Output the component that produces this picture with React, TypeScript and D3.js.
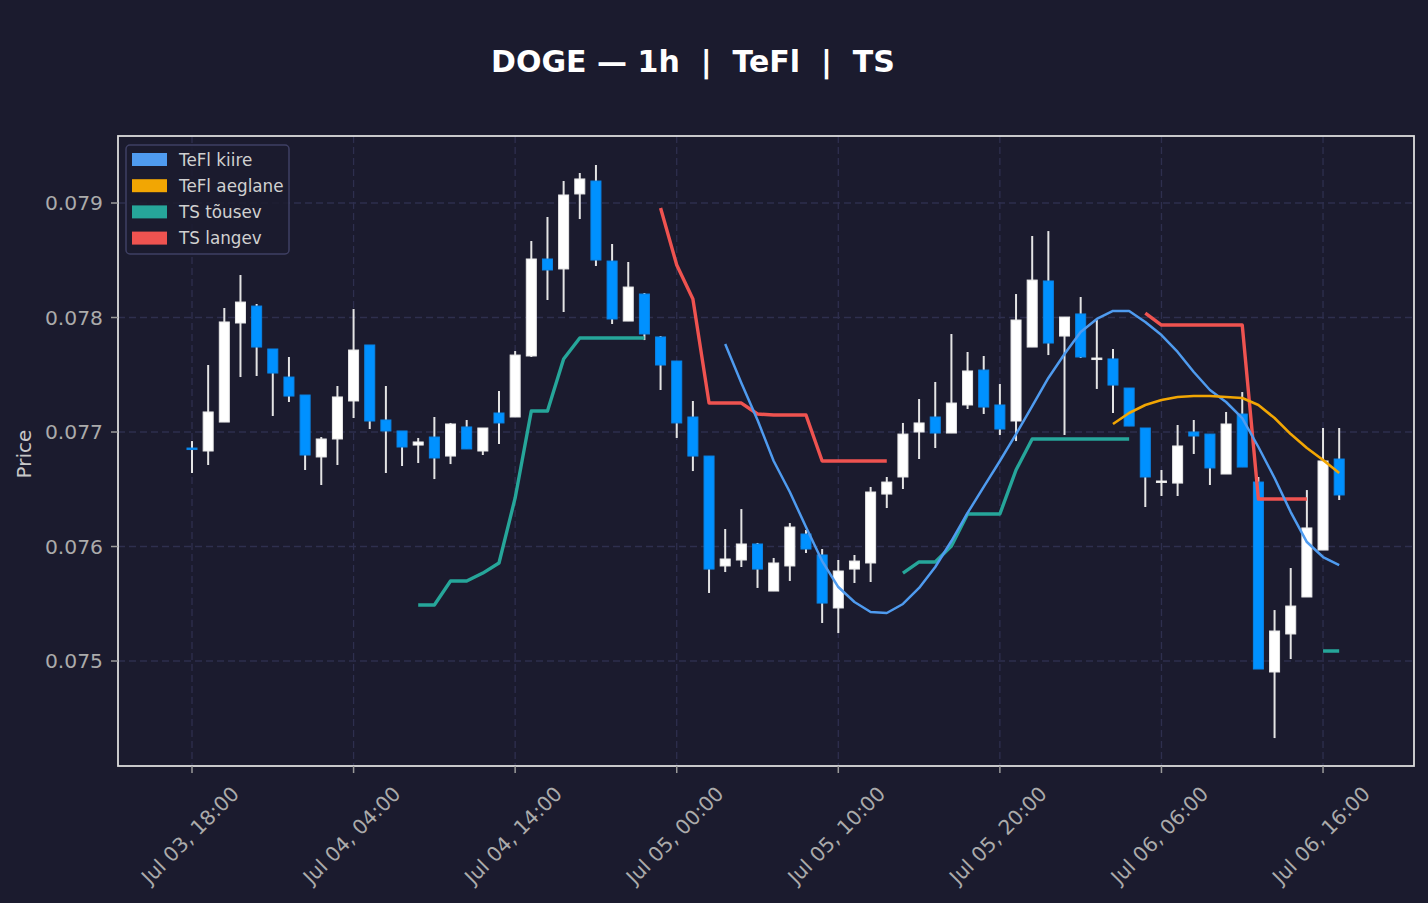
import React from "react";
import * as d3 from "d3";

const title = "DOGE — 1h  |  TeFl  |  TS";
const startTime = "2025-07-03T18:00:00Z";

const open = [0.07686,0.076834,0.077087,0.077952,0.0781,0.077725,0.07748,0.077323,0.076782,0.076939,0.077271,0.07776,0.077105,0.077009,0.076886,0.076956,0.07679,0.077044,0.076834,0.077166,0.077131,0.077664,0.078511,0.078424,0.079079,0.079192,0.078493,0.077969,0.078205,0.07783,0.07762,0.077131,0.07679,0.07583,0.075882,0.076022,0.075611,0.07583,0.076109,0.075926,0.075463,0.075803,0.075856,0.076458,0.076607,0.077,0.077131,0.076991,0.077236,0.077541,0.077236,0.077096,0.077742,0.078319,0.077838,0.078031,0.077638,0.077638,0.077384,0.077035,0.076563,0.076554,0.077,0.076982,0.076633,0.077157,0.076563,0.074904,0.075236,0.075559,0.075969,0.076764];
const high = [0.076921,0.077585,0.078083,0.078371,0.078118,0.077725,0.077655,0.077323,0.076956,0.077402,0.078074,0.07776,0.077402,0.077009,0.076948,0.077131,0.077079,0.077105,0.077035,0.077358,0.077707,0.078668,0.078878,0.079192,0.079262,0.079332,0.078642,0.078485,0.078214,0.077838,0.07762,0.077271,0.07679,0.076153,0.076327,0.076031,0.0759,0.076205,0.076144,0.075978,0.075882,0.075926,0.07652,0.076607,0.077079,0.077288,0.077437,0.077856,0.077699,0.077664,0.077419,0.078205,0.078712,0.078755,0.078004,0.078179,0.077978,0.077725,0.077384,0.077035,0.076668,0.077061,0.077105,0.076982,0.077175,0.077349,0.076607,0.075445,0.075812,0.076493,0.077035,0.077035];
const low = [0.076642,0.076712,0.077087,0.07748,0.077489,0.07714,0.077262,0.076668,0.076537,0.076712,0.077122,0.077026,0.076642,0.076703,0.076729,0.076589,0.07672,0.076852,0.076799,0.076895,0.077131,0.077655,0.078153,0.078048,0.07886,0.07845,0.077943,0.077969,0.077803,0.077367,0.076948,0.076659,0.075594,0.075777,0.075821,0.075638,0.075611,0.075699,0.075943,0.075332,0.075244,0.075681,0.07569,0.076336,0.076502,0.076764,0.07686,0.076991,0.077201,0.077157,0.076974,0.076921,0.077742,0.077672,0.076974,0.077646,0.077376,0.077166,0.077052,0.076345,0.076441,0.076441,0.076808,0.076537,0.076633,0.076694,0.07493,0.074327,0.075017,0.075559,0.075969,0.076406];
const close = [0.076852,0.077175,0.077961,0.078135,0.077742,0.077515,0.077314,0.076799,0.076939,0.077306,0.077716,0.077096,0.077009,0.076869,0.076913,0.076773,0.07707,0.076852,0.077035,0.077079,0.077672,0.078511,0.078415,0.07907,0.07921,0.078502,0.077987,0.078266,0.077856,0.077585,0.077079,0.07679,0.075803,0.075891,0.076022,0.075803,0.075856,0.07617,0.075978,0.075506,0.075786,0.075873,0.076476,0.076563,0.076982,0.077079,0.076991,0.077253,0.077533,0.077218,0.077026,0.077978,0.078327,0.077777,0.078004,0.077655,0.077646,0.07741,0.077052,0.076607,0.076572,0.076878,0.076965,0.076686,0.07707,0.076694,0.07493,0.075262,0.07548,0.076162,0.076747,0.07645];

const N = null;
const tsUp = [N,N,N,N,N,N,N,N,N,N,N,N,N,N,0.075489,0.075489,0.075699,0.075699,0.075768,0.075856,0.076424,0.077183,0.077183,0.077638,0.077821,0.077821,0.077821,0.077821,0.077821,N,N,N,N,N,N,N,N,N,N,N,N,N,N,N,0.075768,0.075865,0.075865,0.076004,0.076284,0.076284,0.076284,0.076668,0.076939,0.076939,0.076939,0.076939,0.076939,0.076939,0.076939,N,N,N,N,N,N,N,N,N,N,N,0.075087,0.075087];
const tsDown = [N,N,N,N,N,N,N,N,N,N,N,N,N,N,N,N,N,N,N,N,N,N,N,N,N,N,N,N,N,0.078956,0.078459,0.078162,0.077253,0.077253,0.077253,0.077157,0.077148,0.077148,0.077148,0.076747,0.076747,0.076747,0.076747,0.076747,N,N,N,N,N,N,N,N,N,N,N,N,N,N,N,0.078039,0.077934,0.077934,0.077934,0.077934,0.077934,0.077934,0.076415,0.076415,0.076415,0.076415,N,N];
const tefFast = [N,N,N,N,N,N,N,N,N,N,N,N,N,N,N,N,N,N,N,N,N,N,N,N,N,N,N,N,N,N,N,N,N,0.077769,0.077428,0.077105,0.076747,0.076476,0.07617,0.075873,0.075646,0.075515,0.075428,0.075419,0.075498,0.075638,0.075821,0.076048,0.076293,0.07652,0.076747,0.076982,0.077227,0.077472,0.077681,0.077873,0.077987,0.078057,0.078057,0.077961,0.077847,0.077699,0.077524,0.077367,0.077262,0.077122,0.076869,0.076598,0.076301,0.076039,0.075908,0.075838];
const tefSlow = [N,N,N,N,N,N,N,N,N,N,N,N,N,N,N,N,N,N,N,N,N,N,N,N,N,N,N,N,N,N,N,N,N,N,N,N,N,N,N,N,N,N,N,N,N,N,N,N,N,N,N,N,N,N,N,N,N,0.07707,0.077166,0.077236,0.077279,0.077306,0.077314,0.077314,0.077306,0.077297,0.077236,0.077122,0.076982,0.07686,0.076755,0.076642];

const yTicks = [0.075, 0.076, 0.077, 0.078, 0.079];
const xTickTimes = ["2025-07-03T18:00:00Z","2025-07-04T04:00:00Z","2025-07-04T14:00:00Z","2025-07-05T00:00:00Z","2025-07-05T10:00:00Z","2025-07-05T20:00:00Z","2025-07-06T06:00:00Z","2025-07-06T16:00:00Z"];

const legendItems = [
  { label: "TeFl kiire", color: "#4f9bef" },
  { label: "TeFl aeglane", color: "#f2a603" },
  { label: "TS tõusev", color: "#26a69a" },
  { label: "TS langev", color: "#ef5350" },
];

const BG = "#1b1b2e";
const UP = "#ffffff";
const DOWN = "#0091ff";
const FONT = "'DejaVu Sans', sans-serif";

export default function App() {
  const W = 1428, H = 903;
  const L = 118, R = 1414, T = 136, B = 766;
  const HOUR = 3600 * 1000;
  const t0 = new Date(startTime).getTime();
  const times = open.map((_, i) => new Date(t0 + i * HOUR));

  const x = d3.scaleUtc().domain([new Date(t0 - 4.58 * HOUR), new Date(t0 + 75.63 * HOUR)]).range([L, R]);
  const y = d3.scaleLinear().domain([0.074083, 0.0795852]).range([B, T]);
  const bw = x(new Date(t0 + 0.62 * HOUR)) - x(new Date(t0));
  const fmt = d3.utcFormat("%b %d, %H:%M");

  const mkLine = (arr: (number | null)[]) =>
    d3.line<number | null>()
      .defined((d) => d != null)
      .x((_, i) => x(times[i]))
      .y((d) => y(d as number))(arr) || "";

  const series = [
    { data: tsUp, color: "#26a69a", w: 3.4 },
    { data: tsDown, color: "#ef5350", w: 3.4 },
    { data: tefFast, color: "#4f9bef", w: 2.5 },
    { data: tefSlow, color: "#f2a603", w: 2.6 },
  ];

  const xTicks = xTickTimes.map((s) => new Date(s));

  return (
    <svg width={W} height={H} style={{ position: "absolute", left: 0, top: 0, display: "block", background: BG }} fontFamily={FONT}>
      <rect x={0} y={0} width={W} height={H} fill={BG} />
      <text x={693} y={72} fill="#ffffff" fontSize={30} fontWeight="bold" textAnchor="middle" style={{ whiteSpace: "pre" }}>{title}</text>

      <g>
        {yTicks.map((v) => (
          <line key={"gy" + v} x1={L} x2={R} y1={y(v)} y2={y(v)} stroke="#2e2f4e" strokeWidth={1.3} strokeDasharray="7,4" />
        ))}
        {xTicks.map((t, i) => (
          <line key={"gx" + i} x1={x(t)} x2={x(t)} y1={T} y2={B} stroke="#2e2f4e" strokeWidth={1.3} strokeDasharray="7,4" />
        ))}
      </g>

      <g>
        {times.map((t, i) => {
          const up = close[i] >= open[i];
          const cx = x(t);
          const top = y(Math.max(open[i], close[i]));
          const bot = y(Math.min(open[i], close[i]));
          return (
            <g key={"c" + i}>
              <line x1={cx} x2={cx} y1={y(high[i])} y2={y(low[i])} stroke="#e4e4e4" strokeWidth={2} />
              <rect x={cx - bw / 2} y={top} width={bw} height={Math.max(bot - top, 1.5)} fill={up ? UP : DOWN} stroke={up ? "#e8e8e8" : "#0a84e6"} strokeWidth={1} />
            </g>
          );
        })}
      </g>

      <g>
        {series.map((s, i) => (
          <path key={"s" + i} d={mkLine(s.data)} fill="none" stroke={s.color} strokeWidth={s.w} strokeLinejoin="round" />
        ))}
      </g>

      <rect x={L} y={T} width={R - L} height={B - T} fill="none" stroke="#dcdcdc" strokeWidth={1.8} />

      <g>
        {yTicks.map((v) => (
          <g key={"yt" + v}>
            <line x1={L - 7} x2={L} y1={y(v)} y2={y(v)} stroke="#9a9a9a" strokeWidth={1.5} />
            <text x={L - 15} y={y(v)} dy="0.36em" textAnchor="end" fill="#ababab" fontSize={20.3}>{d3.format(".3f")(v)}</text>
          </g>
        ))}
        {xTicks.map((t, i) => (
          <g key={"xt" + i}>
            <line x1={x(t)} x2={x(t)} y1={B} y2={B + 7} stroke="#9a9a9a" strokeWidth={1.5} />
            <text transform={`translate(${x(t) - 2},${835}) rotate(-45)`} textAnchor="middle" dy="0.36em" fill="#ababab" fontSize={20.2}>{fmt(t)}</text>
          </g>
        ))}
        <text transform={`translate(31,454) rotate(-90)`} textAnchor="middle" fill="#c8c8c8" fontSize={20}>Price</text>
      </g>

      <g>
        <rect x={126} y={145} width={163} height={109} rx={4} fill={BG} fillOpacity={0.85} stroke="#3f4064" strokeWidth={1.5} />
        {legendItems.map((it, i) => (
          <g key={"lg" + i}>
            <rect x={132} y={153 + i * 26.2} width={35} height={13} fill={it.color} />
            <text x={179} y={159.5 + i * 26.2} dy="0.36em" fill="#d0d0d0" fontSize={16.8}>{it.label}</text>
          </g>
        ))}
      </g>
    </svg>
  );
}
